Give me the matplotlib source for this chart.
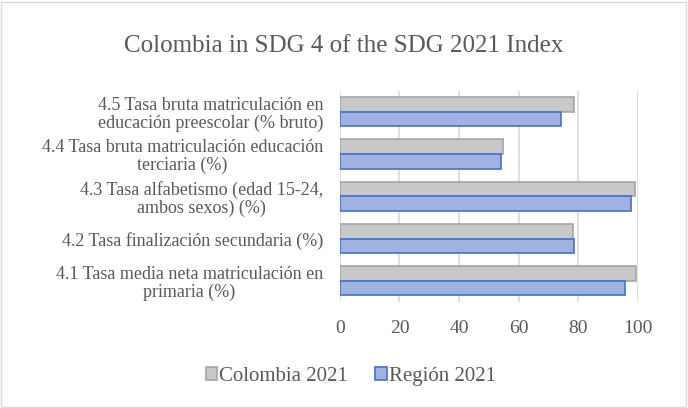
import matplotlib
matplotlib.use('Agg')
import matplotlib.pyplot as plt
from matplotlib.patches import Rectangle
import numpy as np

categories = [
    '4.1 Tasa media neta matriculación en\nprimaria (%)',
    '4.2 Tasa finalización secundaria (%)',
    '4.3 Tasa alfabetismo (edad 15-24,\nambos sexos) (%)',
    '4.4 Tasa bruta matriculación educación\nterciaria (%)',
    '4.5 Tasa bruta matriculación en\neducación preescolar (% bruto)',
]
colombia = [99.3, 78.3, 99.2, 54.9, 78.6]
region = [95.6, 78.6, 97.8, 54.1, 74.2]
series_names = ['Colombia 2021', 'Región 2021']
x_ticks = [0, 20, 40, 60, 80, 100]

plt.rcParams['font.family'] = ['Liberation Serif', 'DejaVu Serif']
text_color = '#595959'

fig = plt.figure(figsize=(6.88, 4.08), dpi=100)
fig.patches.append(Rectangle((0.002, 0.003), 0.995, 0.993, transform=fig.transFigure,
                             fill=False, edgecolor='#d9d9d9', linewidth=1))
ax = fig.add_axes([0.494, 0.26, 0.433, 0.518])

y = np.arange(len(categories))
h = 0.345
ax.barh(y + h / 2, colombia, height=h, color='#c8c8c8', edgecolor='#a5a5a5',
        linewidth=1.2, label=series_names[0], zorder=3)
ax.barh(y - h / 2, region, height=h, color='#a1b2e2', edgecolor='#4472c4',
        linewidth=1.2, label=series_names[1], zorder=3)

ax.set_xlim(0, 100)
ax.set_ylim(-0.5, len(categories) - 0.5)
ax.set_xticks(x_ticks)
ax.set_yticks(y)
ax.set_yticklabels(categories, fontsize=13, color=text_color, linespacing=1.05,
                   multialignment='center')
ax.tick_params(axis='x', labelsize=14, colors=text_color, length=0, pad=13)
ax.tick_params(axis='y', length=0, pad=12)
ax.grid(axis='x', color='#d9d9d9', linewidth=1.2, zorder=0)
for s in ax.spines.values():
    s.set_visible(False)

fig.text(0.5, 0.888, 'Colombia in SDG 4 of the SDG 2021 Index', ha='center',
         va='center', fontsize=18, color=text_color)

leg = fig.legend(loc='center', bbox_to_anchor=(0.51, 0.078), ncol=2, frameon=False,
                 fontsize=15, handlelength=0.55, handleheight=0.55, handletextpad=0.1,
                 columnspacing=1.3, labelcolor=text_color)

fig.savefig('out.png', dpi=100, facecolor='white')
